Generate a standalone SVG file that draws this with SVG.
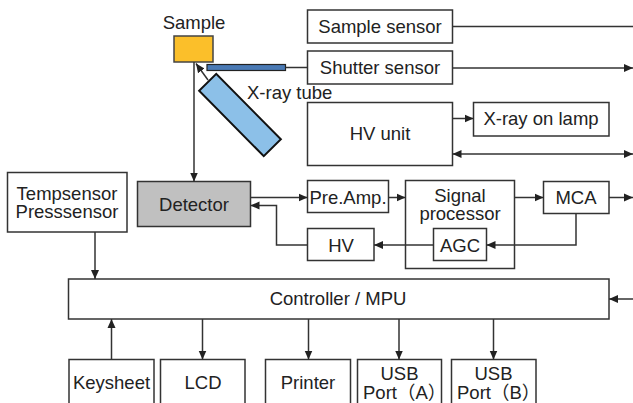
<svg xmlns="http://www.w3.org/2000/svg" width="633" height="403" viewBox="0 0 633 403">
<style>
.box{fill:#fff;stroke:#333;stroke-width:1.5}
.t{font-family:"Liberation Sans",Arial,"Noto Sans CJK JP",sans-serif;font-size:18.5px;fill:#222}
.m{text-anchor:middle}
.c{fill:none;stroke:#333;stroke-width:1.5}
</style>
<defs>
<marker id="ah" markerUnits="userSpaceOnUse" markerWidth="10" markerHeight="10" refX="9" refY="4" orient="auto-start-reverse" viewBox="0 0 10 8">
<path d="M0,0 L9,4 L0,8 Z" fill="#222"/>
</marker>
</defs>
<rect width="633" height="403" fill="#fff"/>

<g id="sample">
<text class="t m" x="194" y="29">Sample</text>
<rect x="174" y="36" width="39" height="26" fill="#FBBF2A" stroke="#444" stroke-width="1.5"/>
</g>
<g id="shutter-bar">
<rect x="207" y="64.5" width="78.5" height="6" fill="#4A7AB5" stroke="#222" stroke-width="1.2"/>
</g>
<g id="xray-tube">
<rect x="-46" y="-12" width="92" height="24" transform="translate(240,115) rotate(45.4)" fill="#8CC0E8" stroke="#111" stroke-width="2"/>
<text class="t" x="247" y="99">X-ray tube</text>
</g>
<g id="sample-sensor">
<rect class="box" x="307.5" y="10" width="145" height="33"/>
<text class="t m" x="380" y="33">Sample sensor</text>
</g>
<g id="shutter-sensor">
<rect class="box" x="307.5" y="51" width="145" height="33"/>
<text class="t m" x="380" y="74">Shutter sensor</text>
</g>
<g id="hv-unit">
<rect class="box" x="307.5" y="102.5" width="145" height="63"/>
<text class="t m" x="380" y="140">HV unit</text>
</g>
<g id="xray-lamp">
<rect class="box" x="473.5" y="102.5" width="135.5" height="33.5"/>
<text class="t m" x="541" y="125">X-ray on lamp</text>
</g>
<g id="tempsensor">
<rect class="box" x="7.5" y="172.5" width="119.5" height="59.5"/>
<text class="t m" x="67" y="200">Tempsensor</text>
<text class="t m" x="67" y="217.5">Presssensor</text>
</g>
<g id="detector">
<rect x="137.5" y="181.5" width="113" height="45" fill="#C0C0C0" stroke="#333" stroke-width="1.5"/>
<text class="t m" x="194" y="211">Detector</text>
</g>
<g id="preamp">
<rect class="box" x="307.5" y="180.5" width="81" height="32"/>
<text class="t m" x="348" y="204">Pre.Amp.</text>
</g>
<g id="signal-processor">
<rect class="box" x="405.5" y="180.5" width="109" height="88"/>
<text class="t m" x="460" y="202">Signal</text>
<text class="t m" x="460" y="220">processor</text>
</g>
<g id="agc">
<rect class="box" x="433.5" y="228.5" width="53" height="32"/>
<text class="t m" x="460" y="252">AGC</text>
</g>
<g id="hv">
<rect class="box" x="307.5" y="228.5" width="66.5" height="32"/>
<text class="t m" x="341" y="252">HV</text>
</g>
<g id="mca">
<rect class="box" x="543.5" y="181.5" width="65.5" height="32"/>
<text class="t m" x="576" y="204">MCA</text>
</g>
<g id="controller">
<rect class="box" x="68.5" y="279" width="540.5" height="40"/>
<text class="t m" x="338" y="305">Controller / MPU</text>
</g>
<g id="keysheet">
<rect class="box" x="69" y="359.5" width="85" height="50"/>
<text class="t m" x="111.5" y="388.5">Keysheet</text>
</g>
<g id="lcd">
<rect class="box" x="160.5" y="359.5" width="84.5" height="50"/>
<text class="t m" x="203" y="388.5">LCD</text>
</g>
<g id="printer">
<rect class="box" x="265.5" y="359.5" width="85" height="50"/>
<text class="t m" x="308" y="388.5">Printer</text>
</g>
<g id="usb-a">
<rect class="box" x="357.5" y="359.5" width="84" height="50"/>
<text class="t m" x="399.5" y="380">USB</text>
<text class="t" x="363" y="398.5">Port（A）</text>
</g>
<g id="usb-b">
<rect class="box" x="451.5" y="359.5" width="84.5" height="50"/>
<text class="t m" x="493.5" y="380">USB</text>
<text class="t" x="457" y="398.5">Port（B）</text>
</g>

<g id="connectors">
<path class="c" d="M208,80 L196,63.5" marker-end="url(#ah)"/>
<path class="c" d="M194,62 V181.5" marker-end="url(#ah)"/>
<path class="c" d="M285.5,67.5 H307.5"/>
<path class="c" d="M452.5,26.5 H633"/>
<path class="c" d="M452.5,68 H633" marker-end="url(#ah)"/>
<path class="c" d="M452.5,118.5 H473.5" marker-end="url(#ah)"/>
<path class="c" d="M452.5,154 H633" marker-start="url(#ah)" marker-end="url(#ah)"/>
<path class="c" d="M250.5,197.5 H307.5" marker-end="url(#ah)"/>
<path class="c" d="M388.5,197.5 H405.5" marker-end="url(#ah)"/>
<path class="c" d="M514.5,197.5 H543.5" marker-end="url(#ah)"/>
<path class="c" d="M609,197.5 H633" marker-end="url(#ah)"/>
<path class="c" d="M576,213.5 V245 H486.5" marker-end="url(#ah)"/>
<path class="c" d="M433.5,245 H374" marker-end="url(#ah)"/>
<path class="c" d="M307.5,245 H276.5 V205.5 H250.5" marker-end="url(#ah)"/>
<path class="c" d="M95,232 V279" marker-end="url(#ah)"/>
<path class="c" d="M633,299 H609" marker-end="url(#ah)"/>
<path class="c" d="M111.5,359.5 V319" marker-end="url(#ah)"/>
<path class="c" d="M202.5,319 V359.5" marker-end="url(#ah)"/>
<path class="c" d="M308.5,319 V359.5" marker-end="url(#ah)"/>
<path class="c" d="M399,319 V359.5" marker-end="url(#ah)"/>
<path class="c" d="M493.5,319 V359.5" marker-end="url(#ah)"/>
</g>
</svg>
